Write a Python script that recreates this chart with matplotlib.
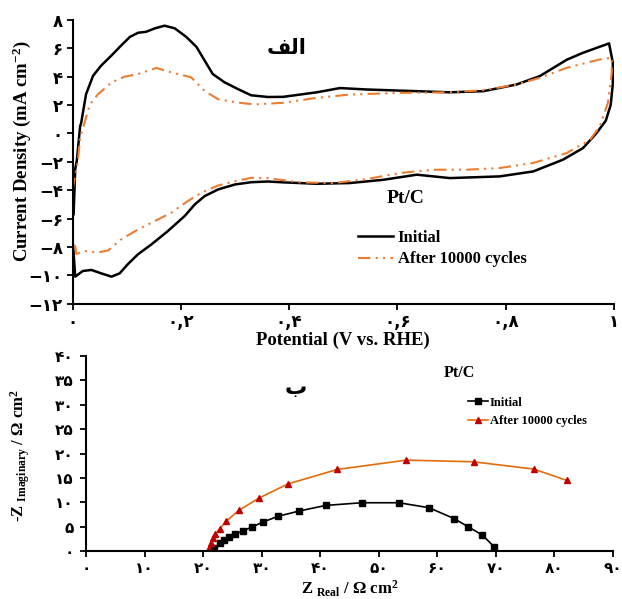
import matplotlib
matplotlib.use('Agg')
from matplotlib import pyplot as plt

plt.rcParams['font.family'] = ['Liberation Serif', 'DejaVu Sans']
plt.rcParams['font.weight'] = 'bold'
plt.rcParams['mathtext.fontset'] = 'custom'
plt.rcParams['mathtext.rm'] = 'Liberation Serif:bold'
plt.rcParams['mathtext.it'] = 'Liberation Serif:bold'
plt.rcParams['mathtext.bf'] = 'Liberation Serif:bold'

# --- CV data (potential V vs RHE, current density mA cm-2), full loop ---
cv_initial_x = [0.002, 0.005, 0.008, 0.014, 0.016, 0.025, 0.038, 0.053, 0.072, 0.09, 0.106,
                0.121, 0.136, 0.152, 0.17, 0.189, 0.21, 0.229, 0.244, 0.259, 0.281, 0.306,
                0.33, 0.361, 0.389, 0.451, 0.494, 0.543, 0.605, 0.697, 0.759, 0.82, 0.863,
                0.913, 0.943, 0.991, 0.998, 0.998, 0.994, 0.985, 0.968, 0.943, 0.906, 0.851,
                0.789, 0.697, 0.636, 0.574, 0.512, 0.451, 0.389, 0.361, 0.33, 0.3, 0.269,
                0.244, 0.226, 0.207, 0.176, 0.146, 0.121, 0.102, 0.087, 0.072, 0.053, 0.035,
                0.019, 0.005, 0.001]
cv_initial_y = [-5.7, -2.5, -1.9, 0.5, 0.74, 2.77, 4.07, 4.79, 5.5, 6.21, 6.81,
                7.1, 7.17, 7.41, 7.6, 7.41, 6.81, 6.1, 5.14, 4.19, 3.6, 3.12,
                2.69, 2.57, 2.58, 2.9, 3.2, 3.1, 3.02, 2.9, 2.98, 3.45, 4.04,
                5.2, 5.69, 6.35, 5.0, 3.5, 2.0, 0.9, 0.03, -1.03, -1.85, -2.68,
                -3.03, -3.15, -2.91, -3.27, -3.5, -3.55, -3.45, -3.39, -3.44, -3.6, -3.95,
                -4.42, -5.0, -5.83, -6.89, -7.82, -8.52, -9.23, -9.87, -10.1, -9.87, -9.63,
                -9.7, -10.1, -7.9]

cv_after_x = [0.0, 0.01, 0.014, 0.023, 0.032, 0.047, 0.072, 0.096, 0.121, 0.155, 0.182,
              0.219, 0.244, 0.269, 0.306, 0.336, 0.389, 0.451, 0.512, 0.605, 0.697, 0.759,
              0.82, 0.863, 0.913, 0.974, 0.996, 0.996, 0.989, 0.974, 0.956, 0.913, 0.851,
              0.789, 0.728, 0.666, 0.605, 0.543, 0.482, 0.42, 0.36, 0.33, 0.3, 0.269,
              0.238, 0.213, 0.182, 0.152, 0.121, 0.09, 0.066, 0.047, 0.023, 0.007, 0.004]
cv_after_y = [-4.0, -1.9, -0.3, 0.86, 2.05, 2.76, 3.6, 4.0, 4.19, 4.62, 4.31,
              3.96, 3.0, 2.41, 2.17, 2.05, 2.16, 2.51, 2.74, 2.86, 2.9, 3.05,
              3.45, 3.92, 4.63, 5.22, 5.34, 4.28, 2.16, 0.5, -0.44, -1.38, -2.08,
              -2.44, -2.56, -2.56, -2.79, -3.22, -3.5, -3.45, -3.15, -3.13, -3.37, -3.67,
              -4.18, -4.77, -5.6, -6.18, -6.77, -7.47, -8.25, -8.4, -8.3, -8.5, -7.7]

cv_xticks = [0, 0.2, 0.4, 0.6, 0.8, 1.0]
cv_xticklabels = ['۰', '۰,۲', '۰,۴', '۰,۶', '۰,۸', '۱']
cv_yticks = [8, 6, 4, 2, 0, -2, -4, -6, -8, -10, -12]
cv_yticklabels = ['۸', '۶', '۴', '۲', '۰', '\u2212۲', '\u2212۴', '\u2212۶', '\u2212۸',
                  '\u2212۱۰', '\u2212۱۲']

# --- EIS data (Nyquist) ---
eis_initial_re = [21.93, 22.84, 23.52, 24.38, 25.52, 26.77, 28.38, 30.26, 32.77, 36.35,
                  40.92, 47.08, 53.45, 58.58, 62.86, 65.32, 67.71, 69.7]
eis_initial_im = [0.55, 1.56, 2.24, 2.91, 3.46, 4.13, 4.94, 5.96, 7.11, 8.19,
                  9.35, 9.9, 9.9, 8.88, 6.65, 4.94, 3.25, 0.87]
eis_after_re = [20.95, 21.36, 21.7, 22.1, 22.84, 23.98, 26.09, 29.51, 34.47, 42.92,
                54.72, 66.18, 76.45, 82.09]
eis_after_im = [0.55, 1.69, 2.58, 3.46, 4.6, 6.17, 8.33, 10.83, 13.76, 16.73,
                18.64, 18.3, 16.81, 14.49]

eis_xticks = [0, 10, 20, 30, 40, 50, 60, 70, 80, 90]
eis_xticklabels = ['۰', '۱۰', '۲۰', '۳۰', '۴۰', '۵۰', '۶۰', '۷۰', '۸۰', '۹۰']
eis_yticks = [0, 5, 10, 15, 20, 25, 30, 35, 40]
eis_yticklabels = ['۰', '۵', '۱۰', '۱۵', '۲۰', '۲۵', '۳۰', '۳۵', '۴۰']

fig = plt.figure(figsize=(6.22, 5.99), dpi=100)
ax1 = fig.add_axes([0.1166, 0.4932, 0.8704, 0.4734])
ax2 = fig.add_axes([0.1383, 0.0801, 0.8472, 0.3256])

tickfont = {'family': ['DejaVu Sans'], 'weight': 'bold'}

# top panel: CV
ax1.plot(cv_initial_x, cv_initial_y, color='black', lw=1.8, label='Initial')
ax1.plot(cv_after_x, cv_after_y, color='#ED7D31', lw=1.5,
         linestyle=(0, (6, 2.5, 1, 2.5, 1, 2.5)), label='After 10000 cycles')
ax1.set_xlim(0, 1)
ax1.set_ylim(-12, 8)
ax1.set_xticks(cv_xticks)
ax1.set_xticklabels(cv_xticklabels, fontdict=tickfont, fontsize=12)
ax1.set_yticks(cv_yticks)
ax1.set_yticklabels(cv_yticklabels, fontdict=tickfont, fontsize=12)
ax1.tick_params(axis='x', pad=3)
ax1.tick_params(axis='y', pad=3)
ax1.text(0.396, 0.90, '\uFED2\uFEDF\uFE8D', transform=ax1.transAxes, ha='center', va='center',
         fontsize=15, fontweight='bold', family=['DejaVu Sans'])
ax1.text(0.616, 0.372, 'Pt/C', transform=ax1.transAxes, ha='center', va='center',
         fontsize=14, fontweight='bold')
ax1.legend(loc='center left', bbox_to_anchor=(0.527, 0.194), frameon=False, borderpad=0,
           borderaxespad=0, handlelength=2.1, handletextpad=0.3, labelspacing=0.35,
           prop={'size': 12, 'weight': 'bold'})

# bottom panel: EIS
ax2.plot(eis_initial_re, eis_initial_im, color='black', lw=1.2, marker='s', ms=4.5,
         label='Initial')
ax2.plot(eis_after_re, eis_after_im, color='#E36C0A', lw=1.2, marker='^', ms=5,
         markerfacecolor='#C00000', markeredgecolor='#C00000', label='After 10000 cycles')
ax2.set_xlim(0, 90)
ax2.set_ylim(0, 40)
ax2.set_xticks(eis_xticks)
ax2.set_xticklabels(eis_xticklabels, fontdict=tickfont, fontsize=11)
ax2.set_yticks(eis_yticks)
ax2.set_yticklabels(eis_yticklabels, fontdict=tickfont, fontsize=11)
ax2.tick_params(axis='x', pad=3)
ax2.tick_params(axis='y', pad=5)
ax2.text(0.398, 0.836, '\uFE8F', transform=ax2.transAxes, ha='center', va='center',
         fontsize=16, fontweight='bold', family=['DejaVu Sans'])
ax2.text(0.708, 0.913, 'Pt/C', transform=ax2.transAxes, ha='center', va='center',
         fontsize=11.5, fontweight='bold')
ax2.legend(loc='center left', bbox_to_anchor=(0.725, 0.713), frameon=False, borderpad=0,
           borderaxespad=0, handlelength=1.6, handletextpad=0.15, labelspacing=0.5,
           numpoints=1, prop={'size': 9, 'weight': 'bold'})

for ax in (ax1, ax2):
    ax.spines['top'].set_visible(False)
    ax.spines['right'].set_visible(False)
    ax.spines['left'].set_linewidth(1.5)
    ax.spines['bottom'].set_linewidth(1.5)
    ax.tick_params(direction='out', length=4, width=1.3)

fig.text(0.035, 0.748, r'Current Density (mA cm$^{-2}$)', rotation=90, ha='center',
         va='center', fontsize=13.5, fontweight='bold')
fig.text(0.551, 0.432, 'Potential (V vs. RHE)', ha='center', va='center',
         fontsize=13.5, fontweight='bold')
fig.text(0.032, 0.239, r'-Z $_{\rm Imaginary}$ / Ω cm$^{2}$', rotation=90, ha='center',
         va='center', fontsize=12, fontweight='bold')
fig.text(0.563, 0.0, r'Z $_{\rm Real}$ / Ω cm$^{2}$', ha='center', va='bottom',
         fontsize=12, fontweight='bold')

plt.savefig('out.png', dpi=100)
plt.close()
